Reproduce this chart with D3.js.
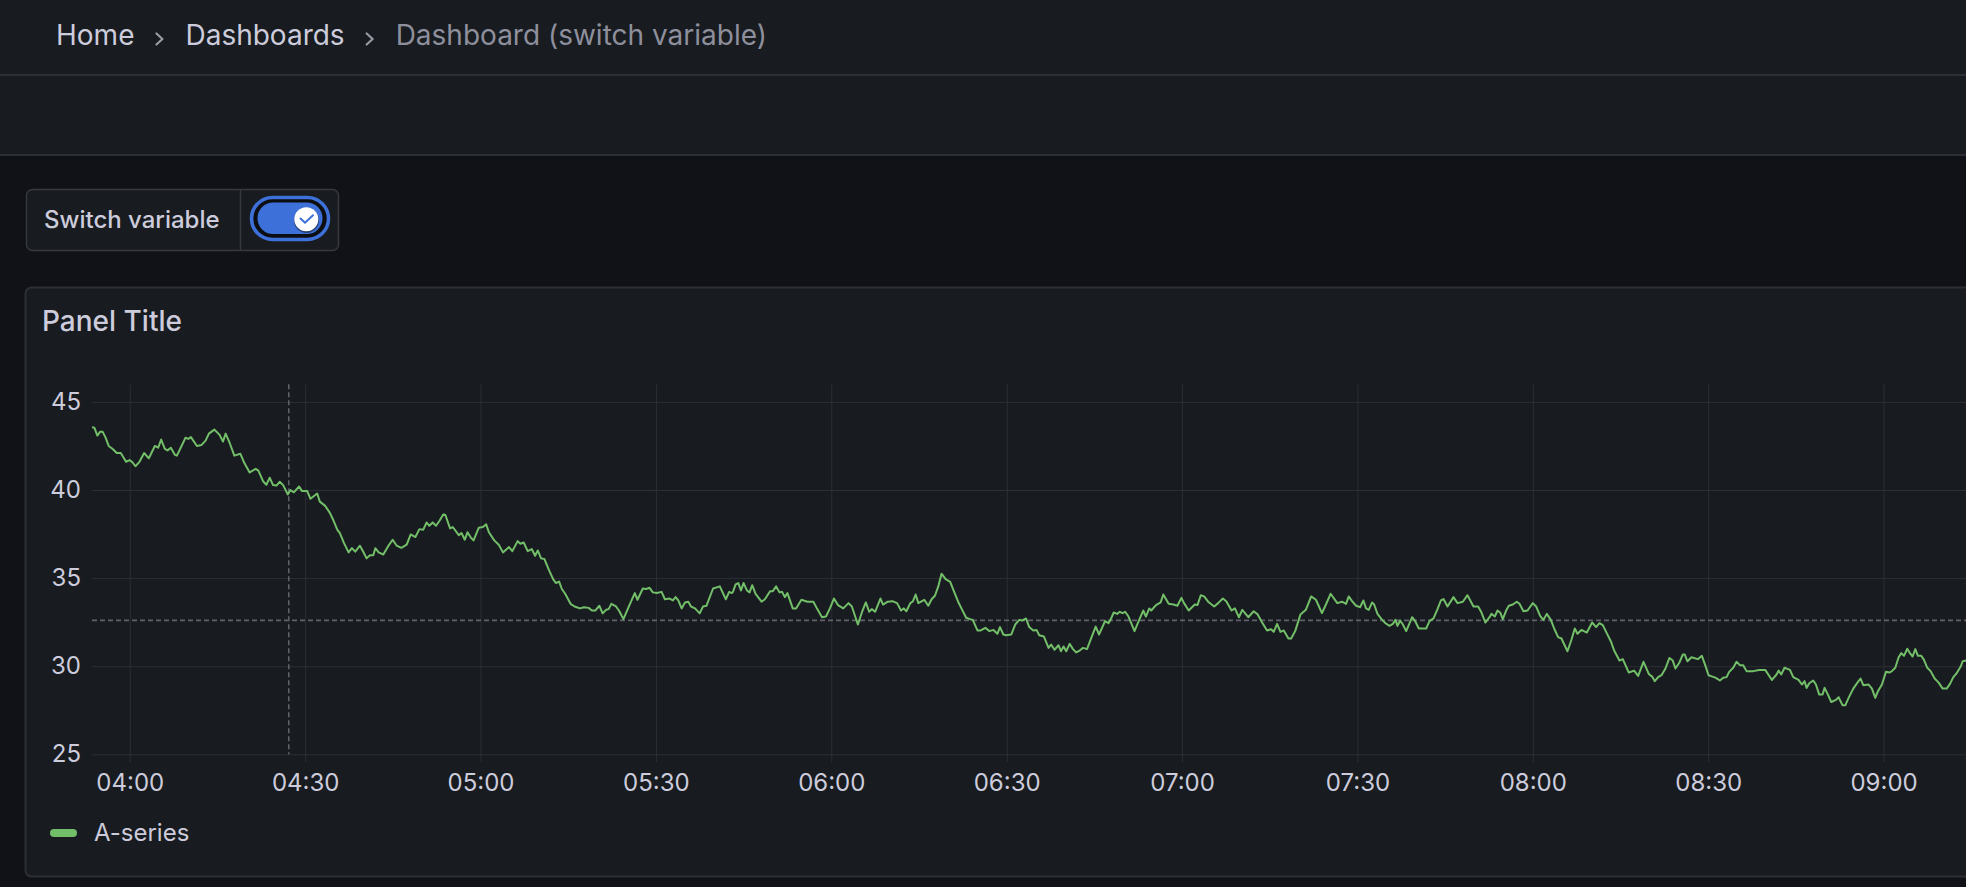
<!DOCTYPE html>
<html>
<head>
<meta charset="utf-8">
<script src="https://cdn.jsdelivr.net/npm/d3@7"></script>
<style>
  html, body { margin: 0; padding: 0; background: #111217; }
  svg { display: block; font-family: Inter, "Noto Sans", sans-serif; }
</style>
</head>
<body>
<div id="chart"></div>
<script>
// breadcrumb + variable
var crumbs = ["Home", "Dashboards", "Dashboard (switch variable)"];
var variableLabel = "Switch variable";
var panelTitle = "Panel Title";
var seriesName = "A-series";

// time in minutes after 04:00
var minutes = [
  -6.46,-6.06,-5.54,-5.09,-4.63,-4.17,-3.6,-2.91,-2.23,-1.54,
  -0.63,-0.06,0.4,0.97,1.66,2.46,3.26,4.29,4.86,5.37,
  6.0,6.46,7.03,7.71,8.06,8.86,9.54,10.0,10.46,11.49,
  12.29,12.97,13.54,14.46,15.37,15.94,16.4,17.09,17.89,18.91,
  19.6,20.51,21.54,22.0,22.8,23.37,23.94,24.51,25.09,25.66,
  26.23,27.03,27.49,28.06,28.97,29.43,30.34,30.91,32.06,32.51,
  33.43,34.23,34.8,35.49,35.94,36.63,37.43,38.0,38.57,39.37,
  39.94,40.51,41.09,41.66,42.0,42.57,43.37,44.17,44.97,45.66,
  46.46,47.37,48.06,48.86,49.54,
  50.21,50.78,51.24,51.81,52.39,52.96,53.65,53.99,54.79,55.25,
  56.28,56.74,57.31,57.77,58.34,58.8,59.71,60.4,60.97,61.43,
  62.35,63.15,63.84,64.87,65.44,66.35,66.81,67.38,68.07,68.76,
  69.33,69.79,70.36,70.93,71.73,72.42,72.88,73.45,73.91,74.48,
  75.4,76.08,77.0,77.69,78.49,79.06,79.63,80.32,80.89,81.47,
  81.92,82.38,83.18,83.75,84.44,85.47,86.39,86.85,87.76,88.33,
  88.91,89.48,90.17,90.97,91.54,92.34,92.91,93.37,93.83,94.4,
  94.97,95.55,96.0,96.69,97.49,98.06,98.64,99.78,100.93,101.96,
  102.53,102.99,
  103.18,103.64,104.09,104.55,105.0,105.57,106.02,106.48,107.05,108.07,
  108.64,109.55,110.0,110.57,111.14,111.59,112.05,112.5,113.41,113.98,
  114.89,115.91,116.93,117.61,118.41,119.09,119.77,120.45,121.14,122.05,
  122.95,123.52,124.55,125.23,125.91,126.48,126.93,127.5,128.41,128.86,
  129.66,130.45,131.25,131.93,132.39,132.84,133.52,133.98,134.43,134.89,
  135.91,136.59,137.16,137.73,138.3,138.86,139.55,140.34,141.02,141.7,
  142.39,143.07,143.75,144.2,145.0,145.57,146.36,147.05,147.73,148.41,
  148.86,149.43,149.89,150.8,151.48,152.16,152.73,153.3,153.86,154.55,
  155.11,155.57,156.36,157.16,157.61,158.18,158.86,
  159.28,159.74,160.19,160.77,161.34,161.91,162.48,163.06,163.74,164.43,
  165.23,165.8,166.83,167.41,167.75,168.32,168.9,169.35,169.81,170.27,
  170.84,171.87,172.67,173.36,173.82,174.39,174.73,175.54,176.34,176.79,
  177.71,178.51,179.2,179.89,180.34,181.14,182.18,182.63,183.21,183.78,
  184.46,185.5,186.18,186.98,187.56,188.47,189.04,189.73,190.3,191.33,
  192.25,192.94,193.62,194.54,195.23,195.68,196.26,196.83,197.4,198.2,
  198.66,199.35,200.26,201.18,202.09,202.9,203.93,204.61,205.41,206.56,
  207.36,208.05,208.51,209.08,209.77,210.45,211.02,211.48,211.94,212.51,
  212.86,213.43,214.12,214.8,215.49,216.06,216.51,216.85,217.31,217.77,
  218.34,219.36,219.82,220.5,221.76,222.33,223.01,223.7,224.27,224.72,
  225.41,226.43,227.12,228.03,228.83,229.85,230.65,231.11,231.9,232.59,
  232.93,233.5,233.96,234.41,234.87,235.44,235.9,236.58,237.26,237.72,
  238.4,239.09,240.0,240.57,241.25,241.82,242.39,243.08,243.65,244.33,
  244.9,245.93,246.61,247.18,247.64,248.32,249.24,250.15,250.83,251.4,
  251.97,252.54,253.34,253.91,254.82,255.39,256.42,257.33,258.02,258.93,
  259.84,260.41,260.87,261.44,262.01,262.69,263.37,263.94,264.4,265.08,
  265.65,265.99,266.45,267.14,
  268.23,268.92,269.49,270.06,270.74,271.31,272.0,272.57,273.14,273.59,
  274.28,274.85,275.42,275.99,276.56,277.7,278.73,279.76,280.9,281.7,
  282.04,282.49,283.06,283.98,284.55,285.46,286.03,286.49,286.83,287.29,
  287.97,288.43,289.0,289.57,289.91,290.48,291.05,291.85,292.31,292.99,
  293.45,294.02,294.82,295.62,296.07,296.53,297.44,298.01,298.58,299.04,
  299.72,300.41,300.98,301.43,302.0,302.58,303.03,303.49,304.06,304.51,
  304.97,305.43,305.88,306.45,306.91,307.48,308.05,308.74,309.42,310.11,
  310.79,311.36,311.93,312.5,313.19,313.53,314.1
];

var values = [
  43.56,43.54,43.09,43.3,43.3,43.0,42.5,42.33,42.1,42.1,
  41.6,41.7,41.6,41.35,41.6,42.1,41.8,42.5,42.4,42.86,
  42.33,42.25,42.4,42.0,41.95,42.5,42.97,42.9,43.0,42.5,
  42.56,42.8,43.2,43.43,43.13,42.75,43.2,42.67,41.95,42.06,
  41.53,41.0,41.2,41.1,40.5,40.3,40.7,40.28,40.25,40.47,
  40.28,39.75,40.0,39.87,40.2,39.95,39.95,39.5,39.8,39.34,
  39.1,38.7,38.3,37.75,37.55,37.0,36.46,36.7,36.5,36.84,
  36.5,36.12,36.3,36.3,36.7,36.46,36.34,36.8,37.18,36.84,
  36.72,36.9,37.48,37.33,37.78,
  37.75,38.16,37.97,38.16,37.97,38.24,38.62,38.58,37.82,37.9,
  37.44,37.56,37.18,37.6,37.3,37.14,37.86,37.9,38.05,37.6,
  37.14,36.88,36.46,36.76,36.53,37.1,36.95,37.02,36.53,36.65,
  36.27,36.57,36.12,36.08,35.44,34.94,34.72,34.8,34.38,34.11,
  33.54,33.39,33.28,33.35,33.31,33.16,33.16,33.43,33.0,33.2,
  33.24,33.54,33.39,33.12,32.67,33.47,34.15,33.77,34.41,34.38,
  34.45,34.19,34.15,34.22,33.8,33.84,33.73,33.92,33.73,33.28,
  33.62,33.66,33.39,33.28,33.0,33.39,33.43,34.41,34.53,33.8,
  34.22,34.15,
  34.22,34.64,34.72,34.3,34.72,34.3,34.19,34.6,34.11,33.66,
  33.8,34.26,34.26,34.53,34.19,34.22,33.92,34.15,33.28,33.28,
  33.77,33.66,33.66,33.24,32.78,32.82,33.28,33.84,33.47,33.28,
  33.58,33.39,32.37,33.05,33.62,33.09,33.24,33.09,33.84,33.5,
  33.66,33.69,33.58,33.16,33.28,33.12,33.58,33.69,34.07,33.58,
  33.77,33.43,33.8,34.0,34.53,35.25,34.94,34.79,34.22,33.66,
  33.2,32.75,32.67,32.63,32.03,32.03,32.18,31.99,32.06,31.84,
  32.22,31.8,31.76,31.8,32.37,32.63,32.6,32.71,32.22,32.03,
  32.06,31.76,31.69,31.04,31.23,30.93,31.19,
  30.85,31.12,30.85,31.27,30.97,30.78,30.89,31.04,30.97,31.57,
  32.25,31.8,32.56,32.44,32.63,33.05,32.97,33.09,33.01,33.09,
  32.82,31.99,32.63,33.16,32.82,33.28,33.16,33.47,33.62,34.07,
  33.54,33.5,33.43,33.88,33.58,33.16,33.5,33.47,34.03,33.96,
  33.66,33.39,33.58,33.84,33.69,33.16,33.28,32.78,33.2,32.78,
  33.12,32.94,32.52,32.03,32.1,31.95,32.4,31.95,32.03,31.57,
  31.57,31.99,32.94,33.2,33.96,33.77,33.01,33.5,34.11,33.58,
  33.66,33.54,33.96,33.69,33.43,33.35,33.73,33.28,33.2,33.62,
  33.5,32.97,32.67,32.44,32.29,32.4,32.63,32.29,32.59,32.37,
  31.99,32.78,32.59,32.14,32.14,32.56,32.71,33.24,33.73,33.81,
  33.39,33.92,33.58,33.66,34.03,33.39,33.39,33.12,32.48,32.78,
  32.97,32.82,33.16,33.05,32.67,33.16,33.43,33.5,33.66,33.54,
  33.12,33.16,33.58,33.39,32.86,32.63,32.97,32.63,32.14,31.65,
  31.57,30.85,31.5,32.14,31.84,32.06,31.91,32.48,32.22,32.44,
  32.33,31.95,31.42,30.89,30.32,30.4,29.64,29.75,29.45,30.25,
  29.56,29.41,29.15,29.38,29.49,29.87,30.47,30.32,29.87,30.21,
  30.66,30.66,30.28,30.51,
  30.4,30.59,30.06,29.49,29.41,29.34,29.19,29.34,29.38,29.68,
  29.91,30.25,30.06,30.06,29.72,29.72,29.79,29.79,29.22,29.53,
  29.75,29.53,29.91,29.79,29.38,29.22,28.96,29.15,28.77,29.03,
  29.19,28.96,28.39,28.39,28.77,28.39,27.97,28.09,28.24,27.78,
  27.78,28.2,28.73,29.11,29.3,28.92,28.96,28.73,28.2,28.58,
  28.96,29.68,29.64,29.72,29.91,30.51,30.74,30.59,30.99,30.74,
  30.55,30.97,30.59,30.59,30.36,29.91,29.72,29.3,29.07,28.73,
  28.73,29.0,29.38,29.6,29.98,30.28,30.32
];

var xTickLabels = ["04:00", "04:30", "05:00", "05:30", "06:00", "06:30",
                   "07:00", "07:30", "08:00", "08:30", "09:00"];
var yTicks = [25, 30, 35, 40, 45];
var yRange = [25, 46];
var cursorMinute = 27.2, cursorValue = 32.6;

var width = 1966, height = 887;
var textColor = "#ccccdc", mutedColor = "#8e8f9c", lineColor = "#73bf69";
var gridColor = "#2c2f35", borderColor = "#2c2f35";

var parseHM = d3.timeParse("%H:%M");
var base = parseHM("04:00");
function atMinute(m) { return new Date(base.getTime() + m * 60000); }

var data = d3.zip(minutes, values).map(function (d) {
  return { date: atMinute(d[0]), value: d[1] };
});

var svg = d3.select("#chart").append("svg")
  .attr("width", width).attr("height", height);

svg.append("rect").attr("width", width).attr("height", height).attr("fill", "#111217");

// top bars
svg.append("rect").attr("width", width).attr("height", 155).attr("fill", "#181b1f");
[75, 155].forEach(function (y) {
  svg.append("line").attr("x1", 0).attr("x2", width).attr("y1", y).attr("y2", y)
    .attr("stroke", borderColor).attr("stroke-width", 2);
});

// breadcrumbs
var cx = 56;
crumbs.forEach(function (c, i) {
  var t = svg.append("text").attr("x", cx).attr("y", 45)
    .attr("font-size", 28)
    .attr("fill", i === crumbs.length - 1 ? mutedColor : textColor)
    .text(c);
  cx += t.node().getComputedTextLength();
  if (i < crumbs.length - 1) {
    cx += 22;
    svg.append("path")
      .attr("d", "M" + cx + ",33.5L" + (cx + 6) + ",39L" + cx + ",44.5")
      .attr("fill", "none").attr("stroke", "#9a9ba6").attr("stroke-width", 2.2)
      .attr("stroke-linecap", "round").attr("stroke-linejoin", "round");
    cx += 29;
  }
});

// switch variable
svg.append("rect").attr("x", 26.5).attr("y", 189.5).attr("width", 312).attr("height", 61)
  .attr("rx", 6).attr("fill", "#181b1f").attr("stroke", "#35383e").attr("stroke-width", 1.5);
svg.append("line").attr("x1", 240.5).attr("x2", 240.5).attr("y1", 190).attr("y2", 250)
  .attr("stroke", "#35383e").attr("stroke-width", 1.5);
svg.append("text").attr("x", 44).attr("y", 228).attr("font-size", 24)
  .attr("font-weight", 500).attr("fill", textColor).text(variableLabel);

var toggle = svg.append("g");
toggle.append("rect").attr("x", 251.5).attr("y", 197.5).attr("width", 77).attr("height", 42)
  .attr("rx", 21).attr("fill", "#0d0e12").attr("stroke", "#3d71d9").attr("stroke-width", 3.5);
toggle.append("rect").attr("x", 257.5).attr("y", 202.5).attr("width", 65).attr("height", 31.5)
  .attr("rx", 15.75).attr("fill", "#3d71d9");
toggle.append("circle").attr("cx", 306.5).attr("cy", 220.5).attr("r", 12.5)
  .attr("fill", "#0d0e12").attr("opacity", 0.5);
toggle.append("circle").attr("cx", 306.3).attr("cy", 219.3).attr("r", 12)
  .attr("fill", "#ffffff");
toggle.append("path").attr("d", "M300.5,218.5L305,222.7L313,215.3")
  .attr("fill", "none").attr("stroke", "#3d71d9").attr("stroke-width", 2)
  .attr("stroke-linecap", "round").attr("stroke-linejoin", "round");

// panel
svg.append("rect").attr("x", 25.5).attr("y", 287.5).attr("width", 2100).attr("height", 589)
  .attr("rx", 6).attr("fill", "#181b1f").attr("stroke", borderColor).attr("stroke-width", 2);
svg.append("text").attr("x", 42).attr("y", 331).attr("font-size", 28)
  .attr("font-weight", 500).attr("fill", textColor).text(panelTitle);

// chart
var plotLeft = 92, plotRight = width, plotTop = 384.3, plotBottom = 754.3;

var x = d3.scaleTime()
  .domain(d3.extent(data, function (d) { return d.date; }))
  .range([plotLeft, plotRight]);

var y = d3.scaleLinear().domain(yRange).range([plotBottom, plotTop]);

var xTicks = xTickLabels.map(function (s) { return parseHM(s); });

var xAxis = svg.append("g")
  .attr("transform", "translate(0," + (plotBottom + 8) + ")")
  .call(d3.axisBottom(x).tickValues(xTicks).tickFormat(d3.timeFormat("%H:%M"))
    .tickSize(-(plotBottom + 8 - plotTop)).tickPadding(12));

var yAxis = svg.append("g")
  .attr("transform", "translate(" + plotLeft + ",0)")
  .call(d3.axisLeft(y).tickValues(yTicks).tickSize(-(plotRight - plotLeft)).tickPadding(11));

[xAxis, yAxis].forEach(function (a) {
  a.select(".domain").remove();
  a.selectAll(".tick line").attr("stroke", gridColor).attr("stroke-width", 1);
  a.selectAll(".tick text").attr("fill", textColor).attr("font-size", 24)
    .attr("font-family", "Inter, sans-serif");
});

svg.append("clipPath").attr("id", "plot-clip").append("rect")
  .attr("x", plotLeft).attr("y", plotTop - 10)
  .attr("width", plotRight - plotLeft).attr("height", plotBottom - plotTop + 20);

var line = d3.line()
  .x(function (d) { return x(d.date); })
  .y(function (d) { return y(d.value); });

// cursor crosshair
var cursor = svg.append("g").attr("stroke", "#5f626b").attr("stroke-width", 1.6)
  .attr("stroke-dasharray", "5,3");
cursor.append("line")
  .attr("x1", x(atMinute(cursorMinute))).attr("x2", x(atMinute(cursorMinute)))
  .attr("y1", plotTop).attr("y2", plotBottom);
cursor.append("line")
  .attr("x1", plotLeft).attr("x2", plotRight)
  .attr("y1", y(cursorValue)).attr("y2", y(cursorValue));

svg.append("path")
  .datum(data)
  .attr("clip-path", "url(#plot-clip)")
  .attr("fill", "none")
  .attr("stroke", lineColor)
  .attr("stroke-width", 2)
  .attr("stroke-linejoin", "round")
  .attr("d", line);

// legend
svg.append("rect").attr("x", 50).attr("y", 829).attr("width", 27).attr("height", 8)
  .attr("rx", 4).attr("fill", lineColor);
svg.append("text").attr("x", 94).attr("y", 841).attr("font-size", 24)
  .attr("fill", textColor).text(seriesName);
</script>
</body>
</html>
